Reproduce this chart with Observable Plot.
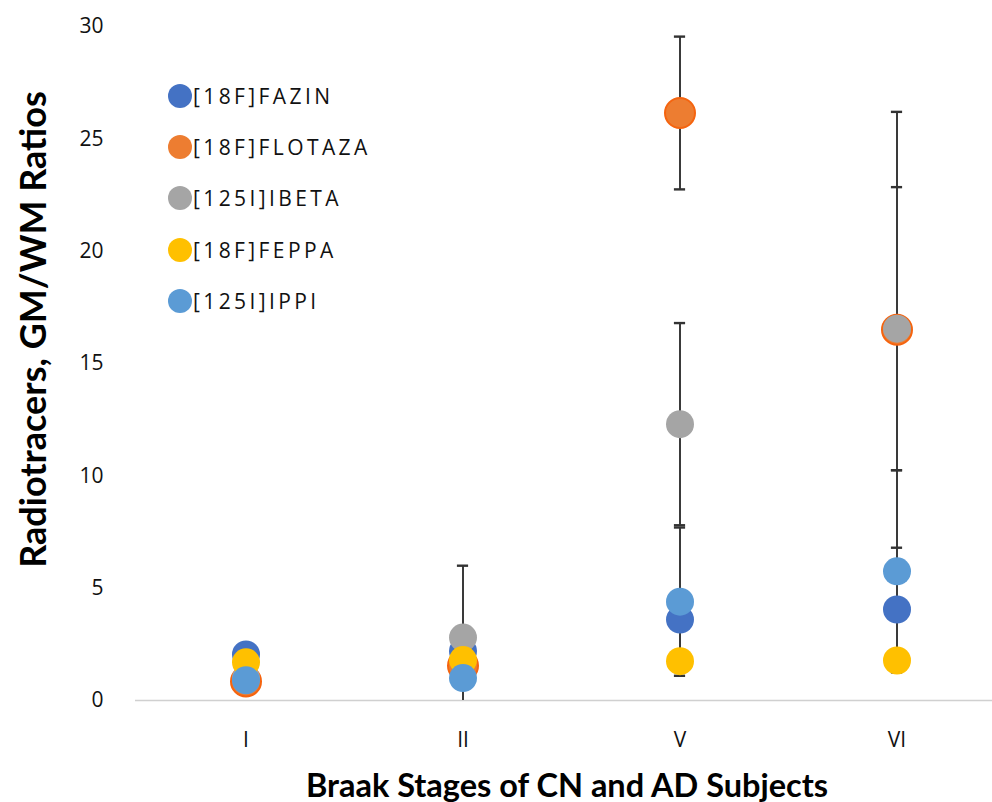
<!DOCTYPE html>
<html>
<head>
<meta charset="utf-8">
<script src="https://cdn.jsdelivr.net/npm/d3@7"></script>
<script src="https://cdn.jsdelivr.net/npm/@observablehq/plot@0.6"></script>
<style>
  html, body { margin: 0; padding: 0; background: #fff; }
  #wrap { position: relative; width: 992px; height: 802px; }
  #legend { position: absolute; left: 168px; top: 70px; font-family: "Open Sans", sans-serif; font-size: 21px; letter-spacing: 3.4px; color: #111; }
  .li { display: flex; align-items: center; height: 51.3px; }
  .sw { width: 24px; height: 24px; border-radius: 50%; margin-right: 1px; }
</style>
</head>
<body>
<div id="wrap"><div id="legend"></div></div>
<script>
const stages = ["I", "II", "V", "VI"];
const seriesNames = ["[18F]FAZIN", "[18F]FLOTAZA", "[125I]IBETA", "[18F]FEPPA", "[125I]IPPI"];
const seriesColors = ["#4472C4", "#ED7D31", "#A5A5A5", "#FFC000", "#5B9BD5"];

const fazin   = [2.05, 2.2, 3.6, 4.05];
const flotaza = [0.85, 1.55, 26.15, 16.5];
const ibeta   = [1.0, 2.8, 12.3, 16.55];
const feppa   = [1.7, 1.8, 1.75, 1.78];
const ippi    = [0.9, 1.0, 4.4, 5.75];

const fazinErr   = [0, 0, 0, 0];
const flotazaErr = [0, 0, 3.4, 9.7];
const ibetaErr   = [0, 3.2, 4.5, 6.3];
const feppaErr   = [0, 0, 0, 0];
const ippiErr    = [0, 0, 3.3, 4.5];

const yTicks = [0, 5, 10, 15, 20, 25, 30];

const values = [fazin, flotaza, ibeta, feppa, ippi];
const errs = [fazinErr, flotazaErr, ibetaErr, feppaErr, ippiErr];

const rows = [];
seriesNames.forEach((name, si) => {
  stages.forEach((st, i) => {
    rows.push({series: name, si, stage: st, value: values[si][i], err: errs[si][i],
               lo: Math.max(0, values[si][i] - errs[si][i]), hi: values[si][i] + errs[si][i]});
  });
});
const errRows = rows.filter(d => d.err > 0);

const dotMarks = seriesNames.map((name, si) =>
  Plot.dot(rows.filter(d => d.si === si), {x: "stage", y: "value", fill: seriesColors[si],
    r: si === 1 ? 15 : 14, stroke: si === 1 ? "#F5640F" : "none", strokeWidth: 2}));

const W = 992, H = 802;
const chart = Plot.plot({
  width: W, height: H,
  marginLeft: 135, marginRight: 0, marginTop: 26, marginBottom: 102,
  style: {fontFamily: "'Open Sans', sans-serif", fontSize: "21px", color: "#111", background: "white"},
  x: {type: "band", domain: stages, range: [135, 1006], padding: 0},
  y: {domain: [0, 30], ticks: yTicks},
  marks: [
    Plot.ruleY([0], {stroke: "#d0d0d0", strokeWidth: 1.5}),
    Plot.axisX({tickSize: 0, tickPadding: 32, label: null, fontSize: 21}),
    Plot.axisY({tickSize: 0, tickPadding: 32, label: null, ticks: yTicks, fontSize: 21}),
    Plot.ruleX(errRows, {x: "stage", y1: "lo", y2: "hi", stroke: "#3a3a3a", strokeWidth: 2}),
    Plot.tickY(errRows, {x: "stage", y: "hi", stroke: "#333", strokeWidth: 2.4, insetLeft: 102.9, insetRight: 102.9}),
    Plot.tickY(errRows.filter(d => d.value - d.err > 0), {x: "stage", y: "lo", stroke: "#333", strokeWidth: 2.4, insetLeft: 102.9, insetRight: 102.9}),
    ...dotMarks,
    Plot.text(["Radiotracers, GM/WM Ratios"], {frameAnchor: "left", textAnchor: "middle", rotate: -90, dx: -101, dy: -34,
      fontWeight: "bold", fontSize: 36, fill: "#000", fontFamily: "Lato, sans-serif"}),
    Plot.text(["Braak Stages of CN and AD Subjects"], {frameAnchor: "bottom", textAnchor: "middle", dx: 3, dy: 96,
      fontWeight: "bold", fontSize: 32.5, fill: "#000", fontFamily: "Lato, sans-serif"})
  ]
});
document.getElementById("wrap").prepend(chart);

const leg = d3.select("#legend");
seriesNames.forEach((n, i) => {
  const row = leg.append("div").attr("class", "li");
  row.append("div").attr("class", "sw").style("background", seriesColors[i]);
  row.append("span").text(n);
});
</script>
</body>
</html>
